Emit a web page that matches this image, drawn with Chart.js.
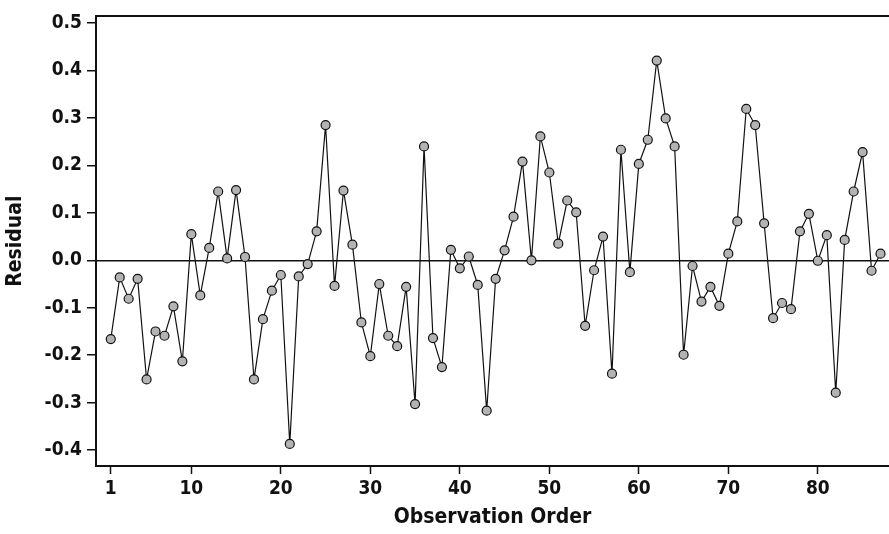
<!DOCTYPE html>
<html>
<head>
<meta charset="utf-8">
<title>Residual vs Observation Order</title>
<script src="https://cdn.jsdelivr.net/npm/chart.js@4/dist/chart.umd.min.js"></script>
<style>
  html, body { margin: 0; padding: 0; background: #fff; overflow: hidden; }
  #wrap { width: 889px; height: 534px; }
</style>
</head>
<body>
<div id="wrap"><canvas id="residualChart" width="889" height="534"></canvas></div>
<script>
'use strict';

// ─── Data ─────────────────────────────────────────────────────
const residuals = [
  -0.166, -0.036, -0.081, -0.039, -0.251, -0.150, -0.159, -0.097, -0.213,  0.055,
  -0.074,  0.026,  0.145,  0.004,  0.148,  0.007, -0.251, -0.124, -0.064, -0.031,
  -0.387, -0.034, -0.008,  0.061,  0.285, -0.054,  0.147,  0.033, -0.131, -0.202,
  -0.050, -0.159, -0.181, -0.056, -0.303,  0.240, -0.164, -0.225,  0.022, -0.017,
   0.008, -0.052, -0.317, -0.039,  0.021,  0.092,  0.208,  0.000,  0.261,  0.185,
   0.035,  0.126,  0.101, -0.138, -0.021,  0.050, -0.239,  0.233, -0.025,  0.203,
   0.254,  0.421,  0.299,  0.240, -0.199, -0.012, -0.087, -0.056, -0.096,  0.014,
   0.082,  0.319,  0.285,  0.078, -0.122, -0.090, -0.103,  0.061,  0.098, -0.001,
   0.053, -0.279,  0.043,  0.145,  0.228, -0.022,  0.014
];
const xTicks = [1, 10, 20, 30, 40, 50, 60, 70, 80];
const yTicks = [0.5, 0.4, 0.3, 0.2, 0.1, 0.0, -0.1, -0.2, -0.3, -0.4];

// observation number = position in the run
const points = residuals.map((r, i) => ({ x: i + 1, y: r }));

const INK  = '#111';
const FONT = "'DejaVu Sans Condensed', 'DejaVu Sans', Tahoma, sans-serif";

// ─── Chart ────────────────────────────────────────────────────
new Chart(document.getElementById('residualChart'), {
  type: 'line',
  data: {
    datasets: [{
      label: 'Residual',
      data: points,
      borderColor: INK,
      borderWidth: 1.2,
      tension: 0,
      pointRadius: 4.5,
      pointBackgroundColor: '#b3b3b3',
      pointBorderColor: INK,
      pointBorderWidth: 1.2,
    }]
  },
  options: {
    responsive: false,
    animation: false,
    devicePixelRatio: 1,
    layout: { autoPadding: false, padding: { top: 14, left: 0, right: 0, bottom: 0 } },
    plugins: { legend: { display: false }, tooltip: { enabled: false } },
    scales: {
      x: {
        type: 'linear',
        position: 'bottom',
        min: -0.65,
        max: 87.95,
        afterBuildTicks: s => { s.ticks = xTicks.map(v => ({ value: v })); },
        afterFit: s => { s.height = 68; },
        ticks: {
          autoSkip: false,
          maxRotation: 0,
          padding: 4,
          color: INK,
          font: { family: FONT, size: 19, weight: 'bold' },
        },
        grid: { drawOnChartArea: false, tickLength: 8, tickColor: INK, tickWidth: 1.5 },
        border: { color: INK, width: 2 },
        title: {
          display: true,
          text: 'Observation Order',
          color: INK,
          padding: { top: 0, bottom: 4 },
          font: { family: FONT, size: 21, weight: 'bold' },
        },
      },
      xTop: {
        type: 'linear',
        position: 'top',
        min: -0.65,
        max: 87.95,
        afterFit: s => { s.height = 0; },
        ticks: { display: false },
        grid: { display: false, drawTicks: false },
        border: { color: INK, width: 2 },
      },
      y: {
        min: -0.4335,
        max: 0.514,
        afterBuildTicks: s => { s.ticks = yTicks.map(v => ({ value: v })); },
        afterFit: s => { s.width = 96; },
        ticks: {
          padding: 5,
          color: INK,
          callback: v => v.toFixed(1),
          font: { family: FONT, size: 19, weight: 'bold' },
        },
        grid: {
          // only the zero reference line is drawn across the plot
          color: c => (c.tick && c.tick.value === 0 ? INK : 'rgba(0,0,0,0)'),
          lineWidth: 1.5,
          tickLength: 9,
          tickColor: INK,
          tickWidth: 1.5,
        },
        border: { color: INK, width: 2 },
        title: {
          display: true,
          text: 'Residual',
          color: INK,
          padding: { top: 3, bottom: 0 },
          font: { family: FONT, size: 21, weight: 'bold' },
        },
      },
    },
  },
});
</script>
</body>
</html>
